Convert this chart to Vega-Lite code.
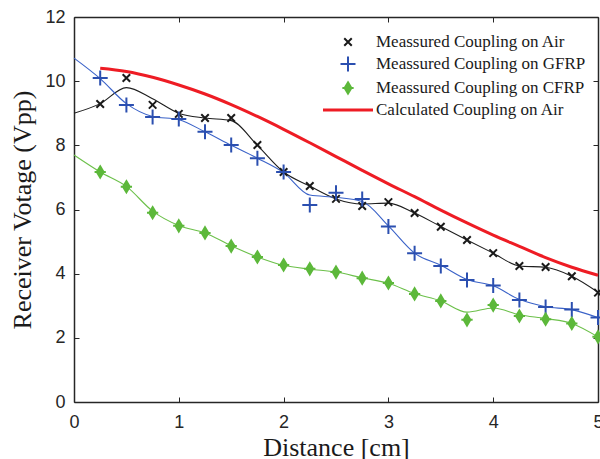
{
  "$schema": "https://vega.github.io/schema/vega-lite/v6.json",
  "width": 524,
  "height": 385,
  "autosize": {"type": "none"},
  "padding": {"left": 74, "top": 17, "right": 2, "bottom": 57},
  "background": "white",
  "config": {
    "view": {"stroke": null},
    "axis": {
      "grid": false,
      "domainColor": "#262626",
      "domainWidth": 1.5,
      "tickColor": "#262626",
      "tickWidth": 1,
      "tickSize": -5,
      "labelFont": "Liberation Sans",
      "labelFontSize": 18,
      "labelColor": "#262626",
      "labelFlush": false,
      "labelPadding": 14,
      "titleFont": "Liberation Serif",
      "titleFontSize": 26,
      "titleFontWeight": "normal",
      "titleColor": "#1a1a1a"
    }
  },
  "datasets": {
    "curves": [
      {"d": 0, "v": 9.0, "s": "Meassured Coupling on Air"},
      {"d": 0.25, "v": 9.3, "s": "Meassured Coupling on Air"},
      {"d": 0.5, "v": 9.8, "s": "Meassured Coupling on Air"},
      {"d": 0.75, "v": 9.45, "s": "Meassured Coupling on Air"},
      {"d": 1.0, "v": 9.0, "s": "Meassured Coupling on Air"},
      {"d": 1.25, "v": 8.85, "s": "Meassured Coupling on Air"},
      {"d": 1.5, "v": 8.77, "s": "Meassured Coupling on Air"},
      {"d": 1.75, "v": 8.0, "s": "Meassured Coupling on Air"},
      {"d": 2.0, "v": 7.17, "s": "Meassured Coupling on Air"},
      {"d": 2.25, "v": 6.73, "s": "Meassured Coupling on Air"},
      {"d": 2.5, "v": 6.33, "s": "Meassured Coupling on Air"},
      {"d": 2.75, "v": 6.17, "s": "Meassured Coupling on Air"},
      {"d": 3.0, "v": 6.2, "s": "Meassured Coupling on Air"},
      {"d": 3.25, "v": 5.89, "s": "Meassured Coupling on Air"},
      {"d": 3.5, "v": 5.47, "s": "Meassured Coupling on Air"},
      {"d": 3.75, "v": 5.05, "s": "Meassured Coupling on Air"},
      {"d": 4.0, "v": 4.64, "s": "Meassured Coupling on Air"},
      {"d": 4.25, "v": 4.24, "s": "Meassured Coupling on Air"},
      {"d": 4.5, "v": 4.2, "s": "Meassured Coupling on Air"},
      {"d": 4.75, "v": 3.92, "s": "Meassured Coupling on Air"},
      {"d": 5.0, "v": 3.42, "s": "Meassured Coupling on Air"},
      {"d": 0, "v": 10.72, "s": "Meassured Coupling on GFRP"},
      {"d": 0.25, "v": 10.08, "s": "Meassured Coupling on GFRP"},
      {"d": 0.5, "v": 9.3, "s": "Meassured Coupling on GFRP"},
      {"d": 0.75, "v": 8.9, "s": "Meassured Coupling on GFRP"},
      {"d": 1.0, "v": 8.8, "s": "Meassured Coupling on GFRP"},
      {"d": 1.25, "v": 8.42, "s": "Meassured Coupling on GFRP"},
      {"d": 1.5, "v": 8.0, "s": "Meassured Coupling on GFRP"},
      {"d": 1.75, "v": 7.6, "s": "Meassured Coupling on GFRP"},
      {"d": 2.0, "v": 7.15, "s": "Meassured Coupling on GFRP"},
      {"d": 2.25, "v": 6.45, "s": "Meassured Coupling on GFRP"},
      {"d": 2.5, "v": 6.38, "s": "Meassured Coupling on GFRP"},
      {"d": 2.75, "v": 6.25, "s": "Meassured Coupling on GFRP"},
      {"d": 3.0, "v": 5.49, "s": "Meassured Coupling on GFRP"},
      {"d": 3.25, "v": 4.64, "s": "Meassured Coupling on GFRP"},
      {"d": 3.5, "v": 4.26, "s": "Meassured Coupling on GFRP"},
      {"d": 3.75, "v": 3.82, "s": "Meassured Coupling on GFRP"},
      {"d": 4.0, "v": 3.62, "s": "Meassured Coupling on GFRP"},
      {"d": 4.25, "v": 3.2, "s": "Meassured Coupling on GFRP"},
      {"d": 4.5, "v": 2.97, "s": "Meassured Coupling on GFRP"},
      {"d": 4.75, "v": 2.88, "s": "Meassured Coupling on GFRP"},
      {"d": 5.0, "v": 2.63, "s": "Meassured Coupling on GFRP"},
      {"d": 0, "v": 7.7, "s": "Meassured Coupling on CFRP"},
      {"d": 0.25, "v": 7.17, "s": "Meassured Coupling on CFRP"},
      {"d": 0.5, "v": 6.72, "s": "Meassured Coupling on CFRP"},
      {"d": 0.75, "v": 5.95, "s": "Meassured Coupling on CFRP"},
      {"d": 1.0, "v": 5.5, "s": "Meassured Coupling on CFRP"},
      {"d": 1.25, "v": 5.27, "s": "Meassured Coupling on CFRP"},
      {"d": 1.5, "v": 4.87, "s": "Meassured Coupling on CFRP"},
      {"d": 1.75, "v": 4.52, "s": "Meassured Coupling on CFRP"},
      {"d": 2.0, "v": 4.26, "s": "Meassured Coupling on CFRP"},
      {"d": 2.25, "v": 4.14, "s": "Meassured Coupling on CFRP"},
      {"d": 2.5, "v": 4.05, "s": "Meassured Coupling on CFRP"},
      {"d": 2.75, "v": 3.87, "s": "Meassured Coupling on CFRP"},
      {"d": 3.0, "v": 3.7, "s": "Meassured Coupling on CFRP"},
      {"d": 3.25, "v": 3.38, "s": "Meassured Coupling on CFRP"},
      {"d": 3.5, "v": 3.15, "s": "Meassured Coupling on CFRP"},
      {"d": 3.75, "v": 2.8, "s": "Meassured Coupling on CFRP"},
      {"d": 4.0, "v": 2.93, "s": "Meassured Coupling on CFRP"},
      {"d": 4.25, "v": 2.72, "s": "Meassured Coupling on CFRP"},
      {"d": 4.5, "v": 2.6, "s": "Meassured Coupling on CFRP"},
      {"d": 4.75, "v": 2.45, "s": "Meassured Coupling on CFRP"},
      {"d": 5.0, "v": 2.03, "s": "Meassured Coupling on CFRP"},
      {"d": 0.25, "v": 10.4, "s": "Calculated Coupling on Air"},
      {"d": 0.5, "v": 10.3, "s": "Calculated Coupling on Air"},
      {"d": 0.75, "v": 10.12, "s": "Calculated Coupling on Air"},
      {"d": 1.0, "v": 9.88, "s": "Calculated Coupling on Air"},
      {"d": 1.25, "v": 9.6, "s": "Calculated Coupling on Air"},
      {"d": 1.5, "v": 9.27, "s": "Calculated Coupling on Air"},
      {"d": 1.75, "v": 8.9, "s": "Calculated Coupling on Air"},
      {"d": 2.0, "v": 8.5, "s": "Calculated Coupling on Air"},
      {"d": 2.25, "v": 8.08, "s": "Calculated Coupling on Air"},
      {"d": 2.5, "v": 7.65, "s": "Calculated Coupling on Air"},
      {"d": 2.75, "v": 7.22, "s": "Calculated Coupling on Air"},
      {"d": 3.0, "v": 6.8, "s": "Calculated Coupling on Air"},
      {"d": 3.25, "v": 6.4, "s": "Calculated Coupling on Air"},
      {"d": 3.5, "v": 5.98, "s": "Calculated Coupling on Air"},
      {"d": 3.75, "v": 5.58, "s": "Calculated Coupling on Air"},
      {"d": 4.0, "v": 5.2, "s": "Calculated Coupling on Air"},
      {"d": 4.25, "v": 4.85, "s": "Calculated Coupling on Air"},
      {"d": 4.5, "v": 4.5, "s": "Calculated Coupling on Air"},
      {"d": 4.75, "v": 4.2, "s": "Calculated Coupling on Air"},
      {"d": 5.0, "v": 3.95, "s": "Calculated Coupling on Air"}
    ],
    "points": [
      {"d": 0.25, "v": 9.29, "s": "Meassured Coupling on Air"},
      {"d": 0.5, "v": 10.1, "s": "Meassured Coupling on Air"},
      {"d": 0.75, "v": 9.26, "s": "Meassured Coupling on Air"},
      {"d": 1.0, "v": 8.98, "s": "Meassured Coupling on Air"},
      {"d": 1.25, "v": 8.85, "s": "Meassured Coupling on Air"},
      {"d": 1.5, "v": 8.85, "s": "Meassured Coupling on Air"},
      {"d": 1.75, "v": 8.01, "s": "Meassured Coupling on Air"},
      {"d": 2.0, "v": 7.17, "s": "Meassured Coupling on Air"},
      {"d": 2.25, "v": 6.73, "s": "Meassured Coupling on Air"},
      {"d": 2.5, "v": 6.33, "s": "Meassured Coupling on Air"},
      {"d": 2.75, "v": 6.11, "s": "Meassured Coupling on Air"},
      {"d": 3.0, "v": 6.23, "s": "Meassured Coupling on Air"},
      {"d": 3.25, "v": 5.89, "s": "Meassured Coupling on Air"},
      {"d": 3.5, "v": 5.46, "s": "Meassured Coupling on Air"},
      {"d": 3.75, "v": 5.05, "s": "Meassured Coupling on Air"},
      {"d": 4.0, "v": 4.64, "s": "Meassured Coupling on Air"},
      {"d": 4.25, "v": 4.24, "s": "Meassured Coupling on Air"},
      {"d": 4.5, "v": 4.21, "s": "Meassured Coupling on Air"},
      {"d": 4.75, "v": 3.92, "s": "Meassured Coupling on Air"},
      {"d": 5.0, "v": 3.41, "s": "Meassured Coupling on Air"},
      {"d": 0.25, "v": 10.1, "s": "Meassured Coupling on GFRP"},
      {"d": 0.5, "v": 9.26, "s": "Meassured Coupling on GFRP"},
      {"d": 0.75, "v": 8.88, "s": "Meassured Coupling on GFRP"},
      {"d": 1.0, "v": 8.82, "s": "Meassured Coupling on GFRP"},
      {"d": 1.25, "v": 8.42, "s": "Meassured Coupling on GFRP"},
      {"d": 1.5, "v": 8.01, "s": "Meassured Coupling on GFRP"},
      {"d": 1.75, "v": 7.6, "s": "Meassured Coupling on GFRP"},
      {"d": 2.0, "v": 7.17, "s": "Meassured Coupling on GFRP"},
      {"d": 2.25, "v": 6.14, "s": "Meassured Coupling on GFRP"},
      {"d": 2.5, "v": 6.52, "s": "Meassured Coupling on GFRP"},
      {"d": 2.75, "v": 6.33, "s": "Meassured Coupling on GFRP"},
      {"d": 3.0, "v": 5.47, "s": "Meassured Coupling on GFRP"},
      {"d": 3.25, "v": 4.64, "s": "Meassured Coupling on GFRP"},
      {"d": 3.5, "v": 4.24, "s": "Meassured Coupling on GFRP"},
      {"d": 3.75, "v": 3.8, "s": "Meassured Coupling on GFRP"},
      {"d": 4.0, "v": 3.63, "s": "Meassured Coupling on GFRP"},
      {"d": 4.25, "v": 3.18, "s": "Meassured Coupling on GFRP"},
      {"d": 4.5, "v": 2.96, "s": "Meassured Coupling on GFRP"},
      {"d": 4.75, "v": 2.88, "s": "Meassured Coupling on GFRP"},
      {"d": 5.0, "v": 2.63, "s": "Meassured Coupling on GFRP"},
      {"d": 0.25, "v": 7.17, "s": "Meassured Coupling on CFRP"},
      {"d": 0.5, "v": 6.71, "s": "Meassured Coupling on CFRP"},
      {"d": 0.75, "v": 5.9, "s": "Meassured Coupling on CFRP"},
      {"d": 1.0, "v": 5.49, "s": "Meassured Coupling on CFRP"},
      {"d": 1.25, "v": 5.27, "s": "Meassured Coupling on CFRP"},
      {"d": 1.5, "v": 4.86, "s": "Meassured Coupling on CFRP"},
      {"d": 1.75, "v": 4.52, "s": "Meassured Coupling on CFRP"},
      {"d": 2.0, "v": 4.27, "s": "Meassured Coupling on CFRP"},
      {"d": 2.25, "v": 4.15, "s": "Meassured Coupling on CFRP"},
      {"d": 2.5, "v": 4.05, "s": "Meassured Coupling on CFRP"},
      {"d": 2.75, "v": 3.86, "s": "Meassured Coupling on CFRP"},
      {"d": 3.0, "v": 3.71, "s": "Meassured Coupling on CFRP"},
      {"d": 3.25, "v": 3.37, "s": "Meassured Coupling on CFRP"},
      {"d": 3.5, "v": 3.15, "s": "Meassured Coupling on CFRP"},
      {"d": 3.75, "v": 2.56, "s": "Meassured Coupling on CFRP"},
      {"d": 4.0, "v": 3.02, "s": "Meassured Coupling on CFRP"},
      {"d": 4.25, "v": 2.68, "s": "Meassured Coupling on CFRP"},
      {"d": 4.5, "v": 2.58, "s": "Meassured Coupling on CFRP"},
      {"d": 4.75, "v": 2.45, "s": "Meassured Coupling on CFRP"},
      {"d": 5.0, "v": 2.03, "s": "Meassured Coupling on CFRP"}
    ]
  },
  "layer": [
    {
      "data": {"name": "curves"},
      "mark": {"type": "line", "interpolate": "monotone"},
      "encoding": {
        "x": {"field": "d", "type": "quantitative", "scale": {"domain": [0, 5], "nice": false},
              "axis": {"orient": "bottom", "values": [0, 1, 2, 3, 4, 5], "title": "Distance [cm]", "labelPadding": 16, "titlePadding": 3}},
        "y": {"field": "v", "type": "quantitative", "scale": {"domain": [0, 12], "nice": false},
              "axis": {"orient": "left", "values": [0, 2, 4, 6, 8, 10, 12], "title": "Receiver Votage (Vpp)", "titlePadding": 9}},
        "detail": {"field": "s", "type": "nominal"},
        "stroke": {"field": "s", "type": "nominal", "legend": null,
                   "scale": {"domain": ["Calculated Coupling on Air", "Meassured Coupling on Air", "Meassured Coupling on GFRP", "Meassured Coupling on CFRP"],
                             "range": ["#ee1c24", "#1e1e1e", "#3a62c8", "#6cc04a"]}},
        "strokeWidth": {"condition": {"test": "datum.s === 'Calculated Coupling on Air'", "value": 3}, "value": 1.1}
      }
    },
    {
      "data": {"name": "points"},
      "mark": {"type": "point", "filled": false, "size": 225, "strokeWidth": 2, "opacity": 1},
      "encoding": {
        "x": {"field": "d", "type": "quantitative",
              "axis": {"orient": "top", "values": [0, 1, 2, 3, 4, 5], "labels": false, "title": null}},
        "y": {"field": "v", "type": "quantitative",
              "axis": {"orient": "right", "values": [0, 2, 4, 6, 8, 10, 12], "labels": false, "title": null}},
        "color": {"field": "s", "type": "nominal",
                  "scale": {"domain": ["Meassured Coupling on Air", "Meassured Coupling on GFRP", "Meassured Coupling on CFRP", "Calculated Coupling on Air"],
                            "range": ["#1a1a1a", "#2b4fb0", "#5cb83a", "#ee1c24"]},
                  "legend": {"title": null, "orient": "none", "legendX": 265.5, "legendY": 16.5, "padding": 0,
                             "labelFont": "Liberation Serif", "labelFontSize": 17, "labelColor": "#1a1a1a", "labelLimit": 0,
                             "symbolSize": 225, "symbolStrokeWidth": 2, "labelOffset": 19.5, "rowPadding": 2}},
        "shape": {"field": "s", "type": "nominal",
                  "scale": {"domain": ["Meassured Coupling on Air", "Meassured Coupling on GFRP", "Meassured Coupling on CFRP", "Calculated Coupling on Air"],
                            "range": ["M-0.5,-0.5L0.5,0.5M-0.5,0.5L0.5,-0.5",
                                      "M-1,0L1,0M0,-1L0,1",
                                      "M0,-0.75L0.45,0L0,0.75L-0.45,0Z M0,-0.35L0.2,0L0,0.35L-0.2,0Z M-0.75,0L0.75,0",
                                      "M-3.2,-0.07L3.2,-0.07L3.2,0.07L-3.2,0.07Z"]},
                  "legend": {"title": null}}
      }
    }
  ],
  "resolve": {"axis": {"x": "independent", "y": "independent"}}
}
